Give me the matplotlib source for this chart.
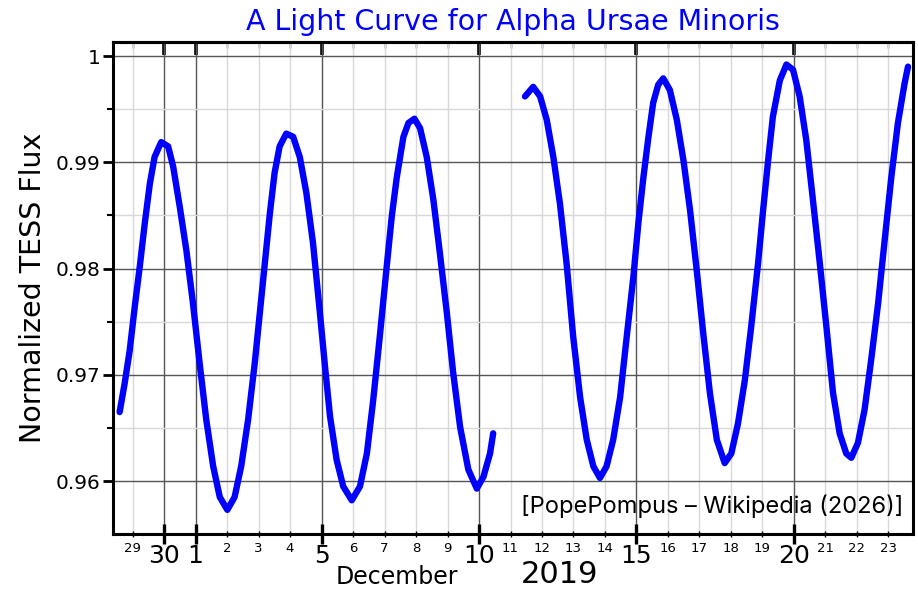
import matplotlib
matplotlib.use('Agg')
import matplotlib.pyplot as plt
from matplotlib.ticker import FixedLocator, FixedFormatter

# time in days counted from 2019-12-01 00:00, flux normalised to the max
seg1_days = [-2.41, -2.25, -2.09, -1.93, -1.77, -1.61, -1.45, -1.30, -1.09, -0.87,
             -0.71, -0.50, -0.29, -0.08, 0.13, 0.34, 0.56, 0.77, 1.01, 1.24,
             1.45, 1.67, 1.88, 2.04, 2.20, 2.36, 2.51, 2.67, 2.88, 3.10,
             3.31, 3.52, 3.73, 3.95, 4.11, 4.27, 4.48, 4.69, 4.96, 5.22,
             5.44, 5.64, 5.86, 6.07, 6.23, 6.39, 6.60, 6.76, 6.95, 7.13,
             7.34, 7.55, 7.76, 7.98, 8.18, 8.40, 8.66, 8.93, 9.14, 9.35, 9.45]
seg1_flux = [0.9665, 0.9692, 0.9723, 0.9764, 0.9802, 0.9843, 0.9880, 0.9905, 0.9919, 0.9915,
             0.9896, 0.9858, 0.9817, 0.9767, 0.9711, 0.9658, 0.9614, 0.9585, 0.9573, 0.9585,
             0.9614, 0.9658, 0.9711, 0.9758, 0.9805, 0.9852, 0.9890, 0.9915, 0.9927, 0.9924,
             0.9905, 0.9871, 0.9824, 0.9758, 0.9708, 0.9661, 0.9620, 0.9595, 0.9582, 0.9595,
             0.9626, 0.9676, 0.9739, 0.9802, 0.9849, 0.9886, 0.9924, 0.9937, 0.9941, 0.9932,
             0.9905, 0.9865, 0.9814, 0.9758, 0.9702, 0.9651, 0.9611, 0.9593, 0.9604, 0.9626, 0.9645]

seg2_days = [10.46, 10.72, 10.94, 11.15, 11.36, 11.57, 11.78, 11.99, 12.21, 12.42,
             12.63, 12.84, 13.05, 13.26, 13.48, 13.69, 13.90, 14.06, 14.22, 14.38,
             14.53, 14.69, 14.85, 15.06, 15.28, 15.49, 15.70, 15.91, 16.12, 16.33,
             16.55, 16.80, 17.01, 17.22, 17.44, 17.64, 17.86, 18.02, 18.18, 18.33,
             18.55, 18.76, 18.97, 19.18, 19.39, 19.60, 19.82, 20.03, 20.24, 20.45,
             20.66, 20.82, 21.03, 21.24, 21.45, 21.67, 21.88, 22.09, 22.30, 22.51, 22.62]
seg2_flux = [0.9962, 0.9971, 0.9962, 0.9940, 0.9905, 0.9861, 0.9805, 0.9736, 0.9679, 0.9639,
             0.9614, 0.9603, 0.9614, 0.9639, 0.9679, 0.9736, 0.9792, 0.9843, 0.9886, 0.9924,
             0.9956, 0.9973, 0.9979, 0.9968, 0.9940, 0.9902, 0.9855, 0.9799, 0.9739, 0.9683,
             0.9639, 0.9617, 0.9626, 0.9654, 0.9695, 0.9745, 0.9805, 0.9855, 0.9902, 0.9943,
             0.9977, 0.9992, 0.9987, 0.9962, 0.9921, 0.9865, 0.9805, 0.9745, 0.9683, 0.9645,
             0.9626, 0.9622, 0.9636, 0.9667, 0.9714, 0.9767, 0.9827, 0.9886, 0.9937, 0.9974, 0.9990]

major_days = [-1, 0, 4, 9, 14, 19]
major_labels = ['30', '1', '5', '10', '15', '20']
minor_days = [-2, 1, 2, 3, 5, 6, 7, 8, 10, 11, 12, 13, 15, 16, 17, 18, 20, 21, 22]
minor_labels = ['29', '2', '3', '4', '6', '7', '8', '9', '11', '12', '13', '14',
                '16', '17', '18', '19', '21', '22', '23']
flux_ticks = [0.96, 0.97, 0.98, 0.99, 1.0]
flux_labels = ['0.96', '0.97', '0.98', '0.99', '1']
flux_minor = [0.955, 0.965, 0.975, 0.985, 0.995]

fig = plt.figure(figsize=(9.18, 5.89), dpi=100)
ax = fig.add_axes([0.1231, 0.0934, 0.8715, 0.8353])

# the light curve, two TESS orbits with a gap in between
ax.plot(seg1_days, seg1_flux, color='#0000ff', lw=4.6, solid_capstyle='round',
        solid_joinstyle='round')
ax.plot(seg2_days, seg2_flux, color='#0000ff', lw=4.6, solid_capstyle='round',
        solid_joinstyle='round')

ax.set_xlim(-2.62, 22.78)
ax.set_ylim(0.95503, 1.00132)

ax.xaxis.set_major_locator(FixedLocator(major_days))
ax.xaxis.set_major_formatter(FixedFormatter(major_labels))
ax.xaxis.set_minor_locator(FixedLocator(minor_days))
ax.xaxis.set_minor_formatter(FixedFormatter(minor_labels))
ax.yaxis.set_major_locator(FixedLocator(flux_ticks))
ax.yaxis.set_major_formatter(FixedFormatter(flux_labels))
ax.yaxis.set_minor_locator(FixedLocator(flux_minor))

ax.set_axisbelow(True)
ax.grid(which='major', color='#555555', lw=1.0)
ax.grid(which='minor', color='#d8d8d8', lw=1.0)

for sp in ax.spines.values():
    sp.set_linewidth(2.2)

ax.tick_params(axis='x', which='major', direction='inout', length=14, width=2.4,
               labelsize=18, pad=0)
ax.tick_params(axis='x', which='minor', direction='inout', length=5, width=1.0,
               labelsize=9.5, pad=3)
ax.tick_params(axis='y', which='major', direction='out', length=7, width=2.0,
               labelsize=14.5, pad=2)
ax.tick_params(axis='y', which='minor', direction='out', length=4.5, width=1.5)

# inward ticks along the top edge
top = ax.secondary_xaxis('top')
top.xaxis.set_major_locator(FixedLocator(major_days))
top.xaxis.set_minor_locator(FixedLocator(minor_days))
top.tick_params(which='major', direction='in', length=9, width=2.6, labeltop=False)
top.tick_params(which='minor', direction='in', length=4.5, width=1.0, labeltop=False)
top.spines['top'].set_linewidth(2.2)

ax.set_ylabel('Normalized TESS Flux', fontsize=20.5, labelpad=6)
ax.set_title('A Light Curve for Alpha Ursae Minoris', color='#0000ff',
             fontsize=20.5, pad=8.5)

fig.text(0.4325, 0.021, 'December', fontsize=17, ha='center', va='center')
fig.text(0.610, 0.024, '2019', fontsize=22, ha='center', va='center')

ax.text(0.9875, 0.057, '[PopePompus \u2013 Wikipedia (2026)]', transform=ax.transAxes,
        ha='right', va='center', fontsize=17, family=['Inter', 'DejaVu Sans'])

fig.savefig('out.png', dpi=100)
